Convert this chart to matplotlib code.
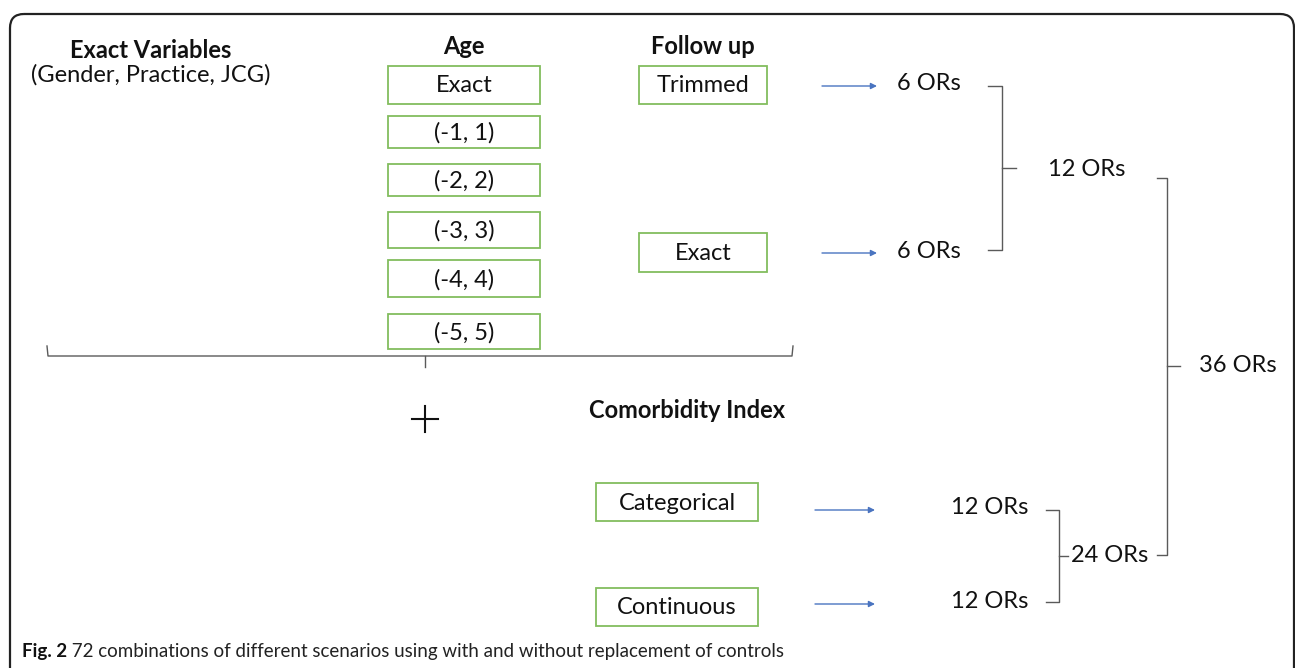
import matplotlib
matplotlib.use('Agg')
import matplotlib.pyplot as plt
from matplotlib.patches import Rectangle, FancyBboxPatch

# diagram content
exact_title = 'Exact Variables'
exact_sub = '(Gender, Practice, JCG)'
age_title = 'Age'
age_labels = ['Exact', '(-1, 1)', '(-2, 2)', '(-3, 3)', '(-4, 4)', '(-5, 5)']
follow_title = 'Follow up'
follow_labels = ['Trimmed', 'Exact']
follow_counts = ['6 ORs', '6 ORs']
follow_total = '12 ORs'
comorb_title = 'Comorbidity Index'
comorb_labels = ['Categorical', 'Continuous']
comorb_counts = ['12 ORs', '12 ORs']
comorb_total = '24 ORs'
grand_total = '36 ORs'
caption_bold = 'Fig. 2'
caption_text = ' 72 combinations of different scenarios using with and without replacement of controls'

W, H = 1295, 668
fig = plt.figure(figsize=(W / 100, H / 100), dpi=100)
ax = fig.add_axes([0, 0, 1, 1])
ax.set_xlim(0, W)
ax.set_ylim(H, 0)
ax.axis('off')

FONT = 'Lato'
FS = 17
GREEN = '#82bd5e'
BLUE = '#4a74c0'
GREY = '#5a5a5a'

# outer frame (rounded top corners, runs off the bottom)
frame = FancyBboxPatch((10, 14), 1284, 720, boxstyle='round,pad=0,rounding_size=14',
                       fill=False, ec='#222222', lw=1.6, clip_on=True)
ax.add_patch(frame)


def box(x0, x1, y0, y1, label):
    ax.add_patch(Rectangle((x0, y0), x1 - x0, y1 - y0, fill=False, ec=GREEN, lw=1.3))
    ax.text((x0 + x1) / 2, (y0 + y1) / 2 + 1, label, ha='center', va='center',
            fontsize=FS, family=FONT, color='#111111')


def arrow(x0, x1, y):
    ax.annotate('', xy=(x1, y), xytext=(x0, y),
                arrowprops=dict(arrowstyle='-|>', color=BLUE, lw=1.0, mutation_scale=9,
                                shrinkA=0, shrinkB=0))


def bracket(x0, x1, y0, y1, ymid, tick):
    # right-facing square brace
    ax.plot([x0, x1, x1, x0], [y0, y0, y1, y1], color=GREY, lw=1.0, solid_joinstyle='round')
    ax.plot([x1, x1 + tick], [ymid, ymid], color=GREY, lw=1.0)


def label(x, y, s, bold=False, size=FS, ha='center'):
    ax.text(x, y, s, ha=ha, va='center', fontsize=size, family=FONT,
            fontweight='bold' if bold else 'normal', color='#111111')


# left column
label(151, 50, exact_title, bold=True)
label(151, 75, exact_sub)

# age column
label(464, 47, age_title, bold=True)
age_rows = [(66, 104), (116, 148), (164, 196), (212, 248), (260, 297), (314, 349)]
for (y0, y1), s in zip(age_rows, age_labels):
    box(388, 540, y0, y1, s)

# follow up column
label(703, 47, follow_title, bold=True)
follow_rows = [(66, 104), (233, 272)]
follow_y = [86, 253]
for (y0, y1), s, yy, c in zip(follow_rows, follow_labels, follow_y, follow_counts):
    box(639, 767, y0, y1, s)
    arrow(822, 877, yy)
    label(929, yy - 2, c)

bracket(988, 1002, 86, 250, 168, 14)
label(1087, 170, follow_total)

# bottom brace under age / follow up
ax.plot([47, 48, 792, 793], [346, 356, 356, 346], color=GREY, lw=1.0)
ax.plot([425, 425], [356, 367], color=GREY, lw=1.0)
# plus sign
ax.plot([412, 438], [419, 419], color='#111111', lw=1.5)
ax.plot([425, 425], [406, 432], color='#111111', lw=1.5)

# comorbidity
label(687, 410, comorb_title, bold=True)
comorb_rows = [(483, 521), (588, 626)]
comorb_y = [510, 604]
for (y0, y1), s, yy, c in zip(comorb_rows, comorb_labels, comorb_y, comorb_counts):
    box(596, 758, y0, y1, s)
    arrow(815, 875, yy)
    label(990, yy - 2, c)

bracket(1046, 1059, 510, 602, 556, 9)
label(1110, 555, comorb_total)

bracket(1157, 1167, 178, 555, 366, 13)
label(1238, 366, grand_total)

# caption
t1 = ax.text(22, 652, caption_bold, ha='left', va='center', fontsize=13.5,
             family=FONT, fontweight='bold', color='#111111')
fig.canvas.draw()
bb = t1.get_window_extent(fig.canvas.get_renderer())
x_end = ax.transData.inverted().transform((bb.x1, bb.y0))[0]
ax.text(x_end, 652, caption_text, ha='left', va='center', fontsize=13.5,
        family=FONT, color='#222222')

fig.savefig('out.png', dpi=100)
